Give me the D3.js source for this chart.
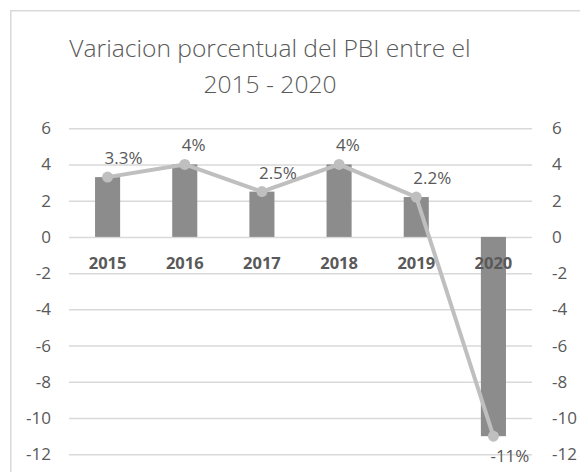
<!DOCTYPE html>
<html><head><meta charset="utf-8">
<script src="https://cdn.jsdelivr.net/npm/d3@7"></script>
<style>body{margin:0;background:#fff}svg{display:block}</style>
</head><body>
<svg id="c" width="580" height="472"></svg>
<script>
// ---- data ----
const years = ["2015", "2016", "2017", "2018", "2019", "2020"];
const barValues = [3.3, 4, 2.5, 4, 2.2, -11];
const lineValues = [3.3, 4, 2.5, 4, 2.2, -11];
const dataLabels = ["3.3%", "4%", "2.5%", "4%", "2.2%", "-11%"];
const yTicks = [6, 4, 2, 0, -2, -4, -6, -8, -10, -12];
const yDomain = [-12, 6];
const titleLines = ["Variacion porcentual del PBI entre el", "2015 - 2020"];

// ---- layout ----
const FONT = "'Open Sans', 'Noto Sans', sans-serif";
const svg = d3.select("#c");
const plot = {left: 69, right: 532, top: 128.2, bottom: 454.3};

svg.append("rect").attr("x", 10.75).attr("y", 10.75).attr("width", 700).attr("height", 600)
  .attr("fill", "#fff").attr("stroke", "#d9d9d9").attr("stroke-width", 1.5);

// title
svg.append("g").selectAll("text").data(titleLines).join("text")
  .attr("x", 270).attr("y", (d, i) => 56.5 + i * 36.5)
  .attr("text-anchor", "middle")
  .attr("font-family", FONT).attr("font-weight", 300).attr("font-size", 24.6)
  .attr("fill", "#595959").text(d => d);

const x = d3.scaleBand().domain(years).range([plot.left, plot.right]).padding(0);
const y = d3.scaleLinear().domain(yDomain).range([plot.bottom, plot.top]);
const cx = d => x(d) + x.bandwidth() / 2;
const barW = x.bandwidth() * 0.325;

// gridlines
const grid = svg.append("g").attr("transform", `translate(${plot.left},0)`)
  .call(d3.axisLeft(y).tickValues(yTicks).tickSize(-(plot.right - plot.left)).tickFormat(""));
grid.select(".domain").remove();
grid.selectAll("line").attr("stroke", "#d9d9d9").attr("stroke-width", 1.5);

// left axis labels
const la = svg.append("g").attr("transform", `translate(${plot.left},0)`)
  .call(d3.axisLeft(y).tickValues(yTicks).tickSize(0).tickPadding(18).tickFormat(d => String(d)));
la.select(".domain").remove();
la.selectAll("text").attr("font-family", FONT).attr("font-size", 17).attr("fill", "#595959");

// right axis labels
const ra = svg.append("g").attr("transform", `translate(${plot.right},0)`)
  .call(d3.axisRight(y).tickValues(yTicks).tickSize(0).tickPadding(20).tickFormat(d => String(d)));
ra.select(".domain").remove();
ra.selectAll("text").attr("font-family", FONT).attr("font-size", 17).attr("fill", "#595959");

// bars
svg.append("g").selectAll("rect").data(years).join("rect")
  .attr("x", (d) => cx(d) - barW / 2)
  .attr("width", barW)
  .attr("y", (d, i) => Math.min(y(barValues[i]), y(0)))
  .attr("height", (d, i) => Math.abs(y(barValues[i]) - y(0)))
  .attr("fill", "#8c8c8c");

// category labels
svg.append("g").selectAll("text").data(years).join("text")
  .attr("x", d => cx(d)).attr("y", y(0) + 32)
  .attr("text-anchor", "middle")
  .attr("font-family", FONT).attr("font-weight", "bold").attr("font-size", 16.5)
  .attr("fill", "#595959").text(d => d);

// line
const line = d3.line().x((d, i) => cx(years[i])).y(d => y(d));
svg.append("path").datum(lineValues).attr("d", line)
  .attr("fill", "none").attr("stroke", "#bfbfbf").attr("stroke-width", 4)
  .attr("stroke-linejoin", "round").attr("stroke-linecap", "round");
svg.append("g").selectAll("circle").data(lineValues).join("circle")
  .attr("cx", (d, i) => cx(years[i])).attr("cy", d => y(d)).attr("r", 5.5)
  .attr("fill", "#bfbfbf");

// data labels
svg.append("g").selectAll("text").data(lineValues).join("text")
  .attr("x", (d, i) => cx(years[i]) - 3)
  .attr("y", d => d >= 0 ? y(d) - 13 : y(d) + 26)
  .attr("font-family", FONT).attr("font-size", 17)
  .attr("fill", "#595959").text((d, i) => dataLabels[i]);
</script>
</body></html>
